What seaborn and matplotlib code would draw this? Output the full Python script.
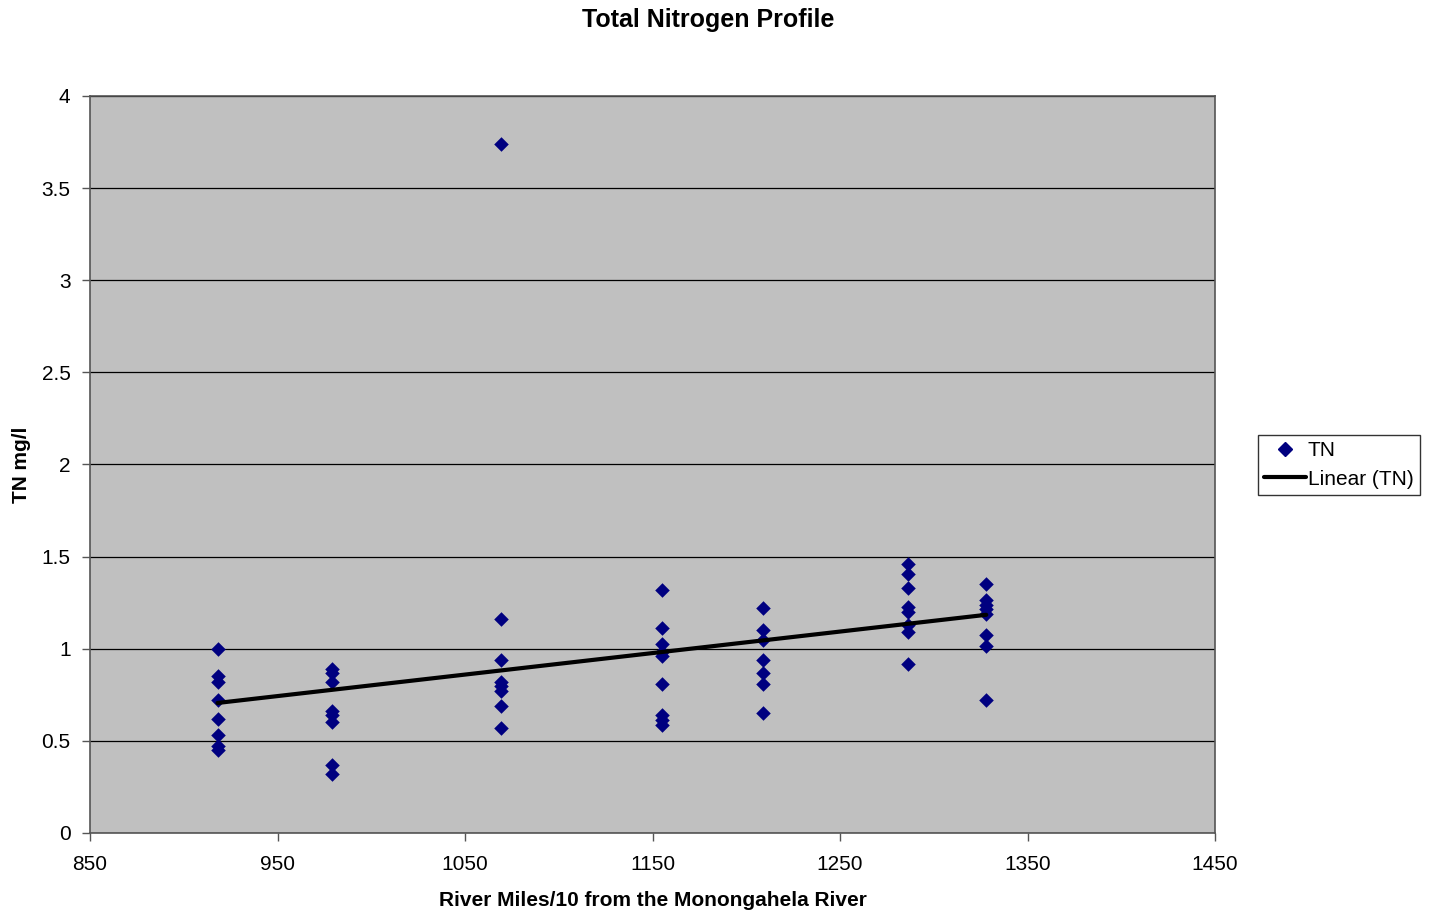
import numpy as np
import pandas as pd
import matplotlib
matplotlib.use("Agg")
import matplotlib.pyplot as plt
from matplotlib.lines import Line2D
import seaborn as sns

# River miles/10 for each sampling station
station_x = [918, 979, 1069, 1155, 1209, 1286, 1328]
# TN readings at each station (mg/l)
tn_918 = [1.00, 0.85, 0.82, 0.72, 0.62, 0.53, 0.47, 0.45]
tn_979 = [0.89, 0.87, 0.82, 0.66, 0.64, 0.60, 0.37, 0.32]
tn_1069 = [3.74, 1.16, 0.94, 0.82, 0.80, 0.77, 0.69, 0.57]
tn_1155 = [1.32, 1.11, 1.025, 0.985, 0.96, 0.81, 0.64, 0.615, 0.585]
tn_1209 = [1.22, 1.10, 1.05, 0.94, 0.87, 0.81, 0.65]
tn_1286 = [1.46, 1.405, 1.33, 1.225, 1.20, 1.13, 1.09, 0.915]
tn_1328 = [1.35, 1.265, 1.24, 1.215, 1.19, 1.075, 1.013, 0.72]

groups = [tn_918, tn_979, tn_1069, tn_1155, tn_1209, tn_1286, tn_1328]
xs, ys = [], []
for sx, g in zip(station_x, groups):
    xs += [sx] * len(g)
    ys += g
df = pd.DataFrame({"x": xs, "TN": ys})

x_ticks = [850, 950, 1050, 1150, 1250, 1350, 1450]
y_ticks = [0, 0.5, 1, 1.5, 2, 2.5, 3, 3.5, 4]
y_tick_labels = ["0", "0.5", "1", "1.5", "2", "2.5", "3", "3.5", "4"]

sns.set_style("white")
plt.rcParams["font.family"] = ["Liberation Sans", "DejaVu Sans"]
plt.rcParams["text.color"] = "black"
plt.rcParams["axes.labelcolor"] = "black"
plt.rcParams["xtick.color"] = "black"
plt.rcParams["ytick.color"] = "black"

fig = plt.figure(figsize=(14.31, 9.15), dpi=100)
ax = fig.add_axes([90 / 1431, 1 - 833 / 915, (1215 - 90) / 1431, (833 - 96) / 915])
ax.set_facecolor("#C0C0C0")

sns.scatterplot(data=df, x="x", y="TN", marker="D", s=55, color="#000080",
                edgecolor="#000080", linewidth=0, ax=ax, zorder=3, legend=False)
sns.regplot(data=df, x="x", y="TN", scatter=False, ci=None, ax=ax,
            line_kws=dict(color="black", lw=3, zorder=4))

ax.set_xlim(850, 1450)
ax.set_ylim(0, 4)
ax.set_xticks(x_ticks)
ax.set_xticklabels([str(t) for t in x_ticks])
ax.set_yticks(y_ticks)
ax.set_yticklabels(y_tick_labels)
ax.yaxis.grid(True, color="black", lw=0.9)
ax.xaxis.grid(False)
ax.set_axisbelow(True)
for sp in ax.spines.values():
    sp.set_color("#555555")
    sp.set_linewidth(1.2)
ax.tick_params(axis="both", direction="out", length=6, width=1, color="#555555",
               labelcolor="black", labelsize=15, bottom=True, left=True)
ax.tick_params(axis="x", pad=10)
ax.tick_params(axis="y", pad=8)

ax.set_xlabel("River Miles/10 from the Monongahela River", fontsize=15,
              fontweight="bold", labelpad=12)
ax.set_ylabel("TN mg/l", fontsize=15, fontweight="bold")
ax.yaxis.set_label_coords((31 - 90) / 1125, 0.5)
fig.suptitle("Total Nitrogen Profile", fontsize=18, fontweight="bold",
             x=708 / 1431, y=1 - 20 / 915, va="center")

handles = [
    Line2D([], [], marker="D", ls="none", color="#000080", markersize=7),
    Line2D([], [], color="black", lw=3),
]
leg = ax.legend(handles, ["TN", "Linear (TN)"], loc="center left",
                bbox_to_anchor=(1258 / 1431, 1 - 465 / 915),
                bbox_transform=fig.transFigure, fontsize=15, frameon=True,
                fancybox=False, edgecolor="black", borderpad=0.3,
                borderaxespad=0, handlelength=2.0, handletextpad=0.1,
                labelspacing=0.45)
leg.get_frame().set_linewidth(1.0)

fig.savefig("out.png", dpi=100, facecolor="white")
